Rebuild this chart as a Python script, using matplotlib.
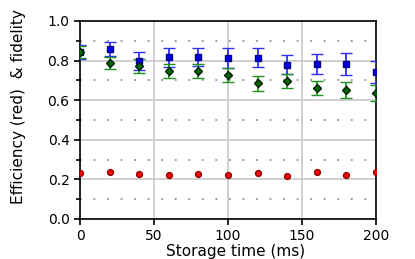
import matplotlib
matplotlib.use("Agg")
import matplotlib.pyplot as plt
from matplotlib.ticker import MultipleLocator

# storage times (ms)
times = [0, 20, 40, 60, 80, 100, 120, 140, 160, 180, 200]

# efficiency (red)
eff = [0.230, 0.239, 0.226, 0.224, 0.226, 0.222, 0.232, 0.217, 0.237, 0.224, 0.236]
eff_err = [0.005] * 11

# fidelity, blue squares
fid_b = [0.845, 0.860, 0.798, 0.816, 0.818, 0.813, 0.815, 0.778, 0.784, 0.781, 0.744]
fid_b_err = [0.036, 0.036, 0.045, 0.046, 0.046, 0.049, 0.049, 0.048, 0.050, 0.055, 0.055]

# fidelity, green diamonds
fid_g = [0.842, 0.790, 0.771, 0.747, 0.747, 0.727, 0.685, 0.697, 0.663, 0.653, 0.638]
fid_g_err = [0.030, 0.030, 0.035, 0.035, 0.035, 0.037, 0.037, 0.035, 0.035, 0.040, 0.040]

fig = plt.figure(figsize=(4.15, 2.59), dpi=100)
ax = fig.add_axes([80 / 415, 1 - 219 / 259, 296 / 415, 198 / 259])

ax.errorbar(times, fid_b, yerr=fid_b_err, fmt="s", color="#0000ee", mec="#000080",
            ms=4.2, ecolor="#3030ff", elinewidth=1.3, capsize=4, capthick=1, zorder=4)
ax.errorbar(times, fid_g, yerr=fid_g_err, fmt="D", color="#006400", mec="#002000",
            ms=4.5, ecolor="#209020", elinewidth=1.3, capsize=4, capthick=1, zorder=4)
ax.errorbar(times, eff, yerr=eff_err, fmt="o", color="#ff0000", mec="#900000",
            ms=4.2, ecolor="#ff8080", elinewidth=1, capsize=2, capthick=1, zorder=4)

ax.set_xlim(0, 200)
ax.set_ylim(0, 1.0)
ax.xaxis.set_major_locator(MultipleLocator(50))
ax.yaxis.set_major_locator(MultipleLocator(0.2))
ax.yaxis.set_minor_locator(MultipleLocator(0.2, offset=0.1))

ax.grid(True, which="major", color="#c8c8c8", lw=1.2, zorder=0)
ax.grid(True, which="minor", axis="y", color="#909090", lw=1.3,
        linestyle=(0, (1, 6.5)), zorder=0)

ax.tick_params(which="both", direction="out", length=4, width=1.2, labelsize=10,
               top=False, right=False)
ax.tick_params(axis="y", which="minor", length=3)
for s in ax.spines.values():
    s.set_linewidth(1.2)

ax.set_ylabel("Efficiency (red)  & fidelity", fontsize=11)
ax.set_xlabel("Storage time (ms)", fontsize=11)
ax.xaxis.set_label_coords(0.527, -0.125)
ax.yaxis.set_label_coords(-0.183, 0.57)

fig.savefig("out.png", dpi=100)
